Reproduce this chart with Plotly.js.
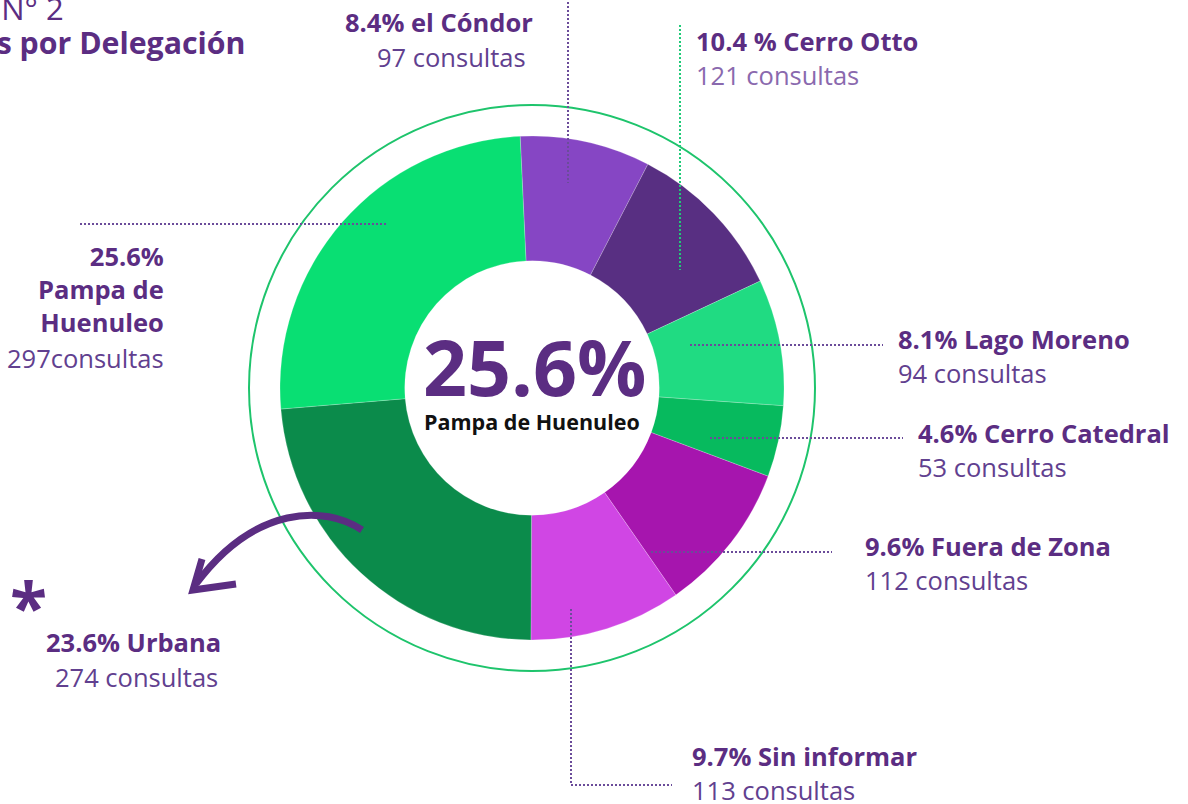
<!DOCTYPE html>
<html>
<head>
<meta charset="utf-8">
<script src="https://cdn.plot.ly/plotly-3.0.1.min.js"></script>
<style>html,body{margin:0;padding:0;background:#fff;}#chart{width:1188px;height:804px;}</style>
</head>
<body>
<div id="chart"></div>
<script>
// ---- data ----
const labels = ['el Cóndor','Cerro Otto','Lago Moreno','Cerro Catedral','Fuera de Zona','Sin informar','Urbana','Pampa de Huenuleo'];
const percents = [8.4, 10.4, 8.1, 4.6, 9.6, 9.7, 23.6, 25.6];
const counts = [97, 121, 94, 53, 112, 113, 274, 297];
const titleTexts = ['8.4% el Cóndor','10.4 % Cerro Otto','8.1% Lago Moreno','4.6% Cerro Catedral','9.6% Fuera de Zona','9.7% Sin informar','23.6% Urbana','25.6%<br>Pampa de<br>Huenuleo'];
const countTexts = ['97 consultas','121 consultas','94 consultas','53 consultas','112 consultas','113 consultas','274 consultas','297consultas'];
const sliceColors = ['#8646C4','#582F82','#20DB82','#07BA5E','#A615AE','#D046E4','#0B8B4B','#09DF73'];
const highlight = 'Pampa de Huenuleo';

// ---- styles ----
const PURPLE = '#5B2D82';
const COUNT = '#61408F';
const FONT = 'Open Sans, Noto Sans, sans-serif';
const W = 1188, H = 804;
const cx = 532, cy = 388, R = 252;

const pie = {
  type: 'pie',
  labels: labels,
  values: counts,
  sort: false,
  direction: 'clockwise',
  rotation: -2.7,
  hole: 0.505,
  textinfo: 'none',
  hoverinfo: 'label+value+percent',
  marker: {colors: sliceColors, line: {color: 'rgba(255,255,255,0.35)', width: 0.6}},
  domain: {x: [(cx - R) / W, (cx + R) / W], y: [1 - (cy + R) / H, 1 - (cy - R) / H]},
  showlegend: false
};

// label placement (pixel coordinates on hidden axes)
const place = [
  {ax: 'right', tx: 535, ty: 22, cxp: 528, cyp: 57},
  {ax: 'left',  tx: 694, ty: 41, cxp: 694, cyp: 75},
  {ax: 'left',  tx: 896, ty: 339, cxp: 896, cyp: 373},
  {ax: 'left',  tx: 916, ty: 433, cxp: 916, cyp: 467},
  {ax: 'left',  tx: 863, ty: 546, cxp: 863, cyp: 580},
  {ax: 'left',  tx: 690, ty: 756, cxp: 690, cyp: 790},
  {ax: 'left',  tx: 44, ty: 642, cxp: 220, cyp: 677, cax: 'right'},
  {ax: 'right', tx: 166, ty: 289, cxp: 166, cyp: 358}
];

const annotations = [];
const FS = 25.5;
labels.forEach((l, i) => {
  const p = place[i];
  annotations.push({x: p.tx, y: p.ty, xref: 'x', yref: 'y', xanchor: p.ax, yanchor: 'middle', align: p.ax,
    text: '<b>' + titleTexts[i] + '</b>', showarrow: false,
    font: {family: FONT, size: FS, color: PURPLE}});
  annotations.push({x: p.cxp, y: p.cyp, xref: 'x', yref: 'y', xanchor: p.cax || p.ax, yanchor: 'middle',
    text: countTexts[i], showarrow: false,
    font: {family: FONT, size: FS, color: i === 1 ? '#8A69AE' : COUNT}});
});

// center text
const hi = labels.indexOf(highlight);
annotations.push({x: cx + 2, y: 366, xref: 'x', yref: 'y', xanchor: 'center', yanchor: 'middle',
  text: '<b>' + percents[hi] + '%</b>', showarrow: false, font: {family: FONT, size: 77, color: PURPLE}});
annotations.push({x: cx, y: 421, xref: 'x', yref: 'y', xanchor: 'center', yanchor: 'middle',
  text: '<b>' + labels[hi] + '</b>', showarrow: false, font: {family: FONT, size: 21.5, color: '#111'}});

// title (cropped like the reference)
annotations.push({x: 66, y: 8, xref: 'x', yref: 'y', xanchor: 'right', yanchor: 'middle',
  text: 'Gráfico N° 2', showarrow: false, font: {family: FONT, size: 31, color: PURPLE}});
annotations.push({x: 248, y: 42, xref: 'x', yref: 'y', xanchor: 'right', yanchor: 'middle',
  text: '<b>Consultas por Delegación</b>', showarrow: false, font: {family: FONT, size: 30.3, color: PURPLE}});
// asterisk
annotations.push({x: 28, y: 605, xref: 'x', yref: 'y', xanchor: 'center', yanchor: 'middle',
  text: '<b>*</b>', showarrow: false, font: {family: FONT, size: 68, color: PURPLE}});

const dotPurple = {color: '#6B4C9A', width: 2, dash: '2px,2px'};
const dotGreen = {color: '#1FCB78', width: 2, dash: '2px,2px'};
const shapes = [
  {type: 'circle', xref: 'x', yref: 'y', x0: cx - 283, x1: cx + 283, y0: cy - 283, y1: cy + 283,
    line: {color: '#1EC46C', width: 2}, layer: 'below'},
  {type: 'line', xref: 'x', yref: 'y', x0: 568, x1: 568, y0: 2, y1: 183, line: dotPurple, layer: 'above'},
  {type: 'line', xref: 'x', yref: 'y', x0: 680, x1: 680, y0: 25, y1: 270, line: dotGreen, layer: 'above'},
  {type: 'line', xref: 'x', yref: 'y', x0: 80, x1: 386, y0: 224, y1: 224, line: dotPurple, layer: 'above'},
  {type: 'line', xref: 'x', yref: 'y', x0: 690, x1: 883, y0: 345, y1: 345, line: dotPurple, layer: 'above'},
  {type: 'line', xref: 'x', yref: 'y', x0: 710, x1: 903, y0: 438, y1: 438, line: dotPurple, layer: 'above'},
  {type: 'line', xref: 'x', yref: 'y', x0: 651, x1: 832, y0: 552, y1: 552, line: dotPurple, layer: 'above'},
  {type: 'path', xref: 'x', yref: 'y', path: 'M 571 609 L 571 785 L 672 785', line: dotPurple, layer: 'above'},
  // curved arrow
  {type: 'path', xref: 'x', yref: 'y', path: 'M 362 530 C 325 505, 255 505, 196 584', line: {color: PURPLE, width: 7}, layer: 'above'},
  {type: 'path', xref: 'x', yref: 'y', path: 'M 202 559 L 193 590 L 236 584', line: {color: PURPLE, width: 7}, layer: 'above'}
];

const layout = {
  width: W, height: H,
  margin: {l: 0, r: 0, t: 0, b: 0},
  paper_bgcolor: '#fff', plot_bgcolor: 'rgba(0,0,0,0)',
  xaxis: {range: [0, W], visible: false, fixedrange: true},
  yaxis: {range: [H, 0], visible: false, fixedrange: true},
  showlegend: false,
  annotations: annotations,
  shapes: shapes
};

Plotly.newPlot('chart', [pie], layout, {displayModeBar: false, staticPlot: true});
</script>
</body>
</html>
